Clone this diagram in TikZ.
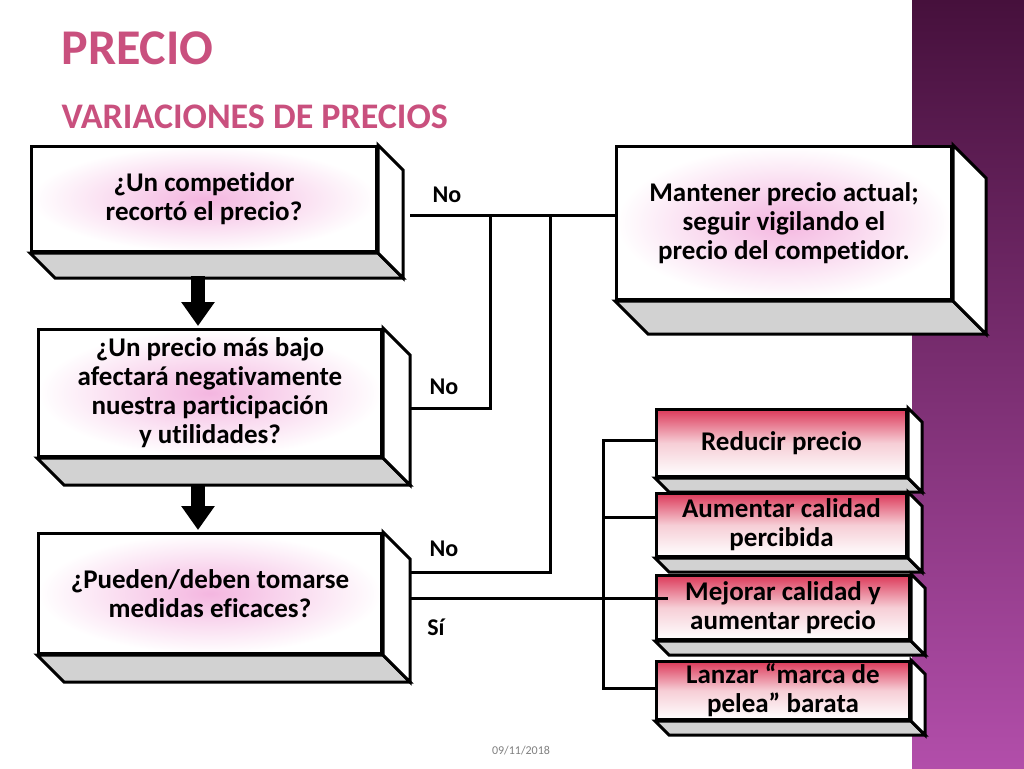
\documentclass[tikz,border=0pt]{standalone}
\usepackage{fontspec}
\setmainfont{Carlito}[Ligatures=NoCommon]
\usetikzlibrary{calc,arrows.meta}
\definecolor{titlepink}{HTML}{C9507E}
\definecolor{boxred}{HTML}{DC3A5A}
\definecolor{glowpink}{HTML}{F4B6E0}
\tikzset{
  front/.style={draw,line width=3pt,align=center,font=\fontsize{27}{29}\selectfont\bfseries,anchor=north west,inner sep=1pt},
  question/.style={front,inner color=glowpink,outer color=white},
  action/.style={front,top color=boxred,bottom color=white,middle color=boxred!25},
  link/.style={line width=3pt},
  answer/.style={font=\fontsize{24}{24}\selectfont\bfseries},
  bigarrow/.style={line width=14pt,-{Triangle[length=24pt,width=32pt]}}
}
\newcommand{\depth}[2]{% node name, depth
  \draw[line width=3pt,fill=gray!35] (#1.south west) -- ++(#2,#2) -- ($(#1.south east)+(#2,#2)$) -- (#1.south east) -- cycle;
  \draw[line width=3pt,fill=white] (#1.north east) -- ++(#2,#2) -- ($(#1.south east)+(#2,#2)$) -- (#1.south east) -- cycle;
}
\begin{document}
\begin{tikzpicture}[x=1pt,y=-1pt]
	\useasboundingbox (0,0) rectangle (1024,768);
	\fill[white] (0,0) rectangle (1024,768);
	\shade[top color={rgb,255:red,70;green,16;blue,60},bottom color={rgb,255:red,178;green,78;blue,170}] (912,0) rectangle (1024,768);

	\node[anchor=west,text=titlepink,font=\fontsize{50}{50}\selectfont\bfseries] (title) at (58,48) {PRECIO};
	\node[anchor=west,text=titlepink,font=\fontsize{36}{36}\selectfont\bfseries] (subtitle) at (58,117) {VARIACIONES DE PRECIOS};

	% questions
	\node[question,minimum width=345pt,minimum height=105pt] (q1) at (30,145) {¿Un competidor\\recortó el precio?};
	\node[question,minimum width=343pt,minimum height=127pt] (q2) at (37,328) {¿Un precio más bajo\\afectará negativamente\\nuestra participación\\y utilidades?};
	\node[question,minimum width=343pt,minimum height=120pt] (q3) at (37,532) {¿Pueden/deben tomarse\\medidas eficaces?};
	\node[question,minimum width=335pt,minimum height=153pt] (keep) at (615,145) {Mantener precio actual;\\seguir vigilando el\\precio del competidor.};
	\depth{q1}{25}
	\depth{q2}{27}
	\depth{q3}{27}
	\depth{keep}{33}

	% actions
	\node[action,minimum width=250pt,minimum height=67pt] (cut) at (655,408) {Reducir precio};
	\node[action,minimum width=250pt,minimum height=63pt] (quality) at (655,492) {Aumentar calidad\\percibida};
	\node[action,minimum width=253pt,minimum height=64pt] (raise) at (655,574) {Mejorar calidad y\\aumentar precio};
	\node[action,minimum width=253pt,minimum height=58pt] (brand) at (655,660) {Lanzar “marca de\\pelea” barata};
	\foreach \n in {cut,quality,raise,brand} {\depth{\n}{14}}

	\draw[bigarrow] (198,276) -- (198,326);
	\draw[bigarrow] (198,485) -- (198,530);

	% connectors
	\coordinate (a) at (410,215);
	\coordinate (b) at (410,408);
	\coordinate (c) at (410,572);
	\coordinate (d) at (410,598);
	\draw[link] (a) -- (a -| keep.west);
	\draw[link] (b) -| (490,215);
	\draw[link] (c) -| (550,215);
	\draw[link] (d) -- (668,598);
	\draw[link] (cut.west |- 0,440) -| (603,688) -- (brand.west |- 0,688);
	\draw[link] (603,517) -- (quality.west |- 0,517);
	\draw[link] (603,598) -- (raise.west |- 0,598);

	\node[answer] (no1) at (447,195) {No};
	\node[answer] (no2) at (444,387) {No};
	\node[answer] (no3) at (444,549) {No};
	\node[answer] (si) at (436,627) {Sí};

	\node[text=gray,font=\fontsize{12}{12}\selectfont] (date) at (521,751) {09/11/2018};
\end{tikzpicture}
\end{document}
